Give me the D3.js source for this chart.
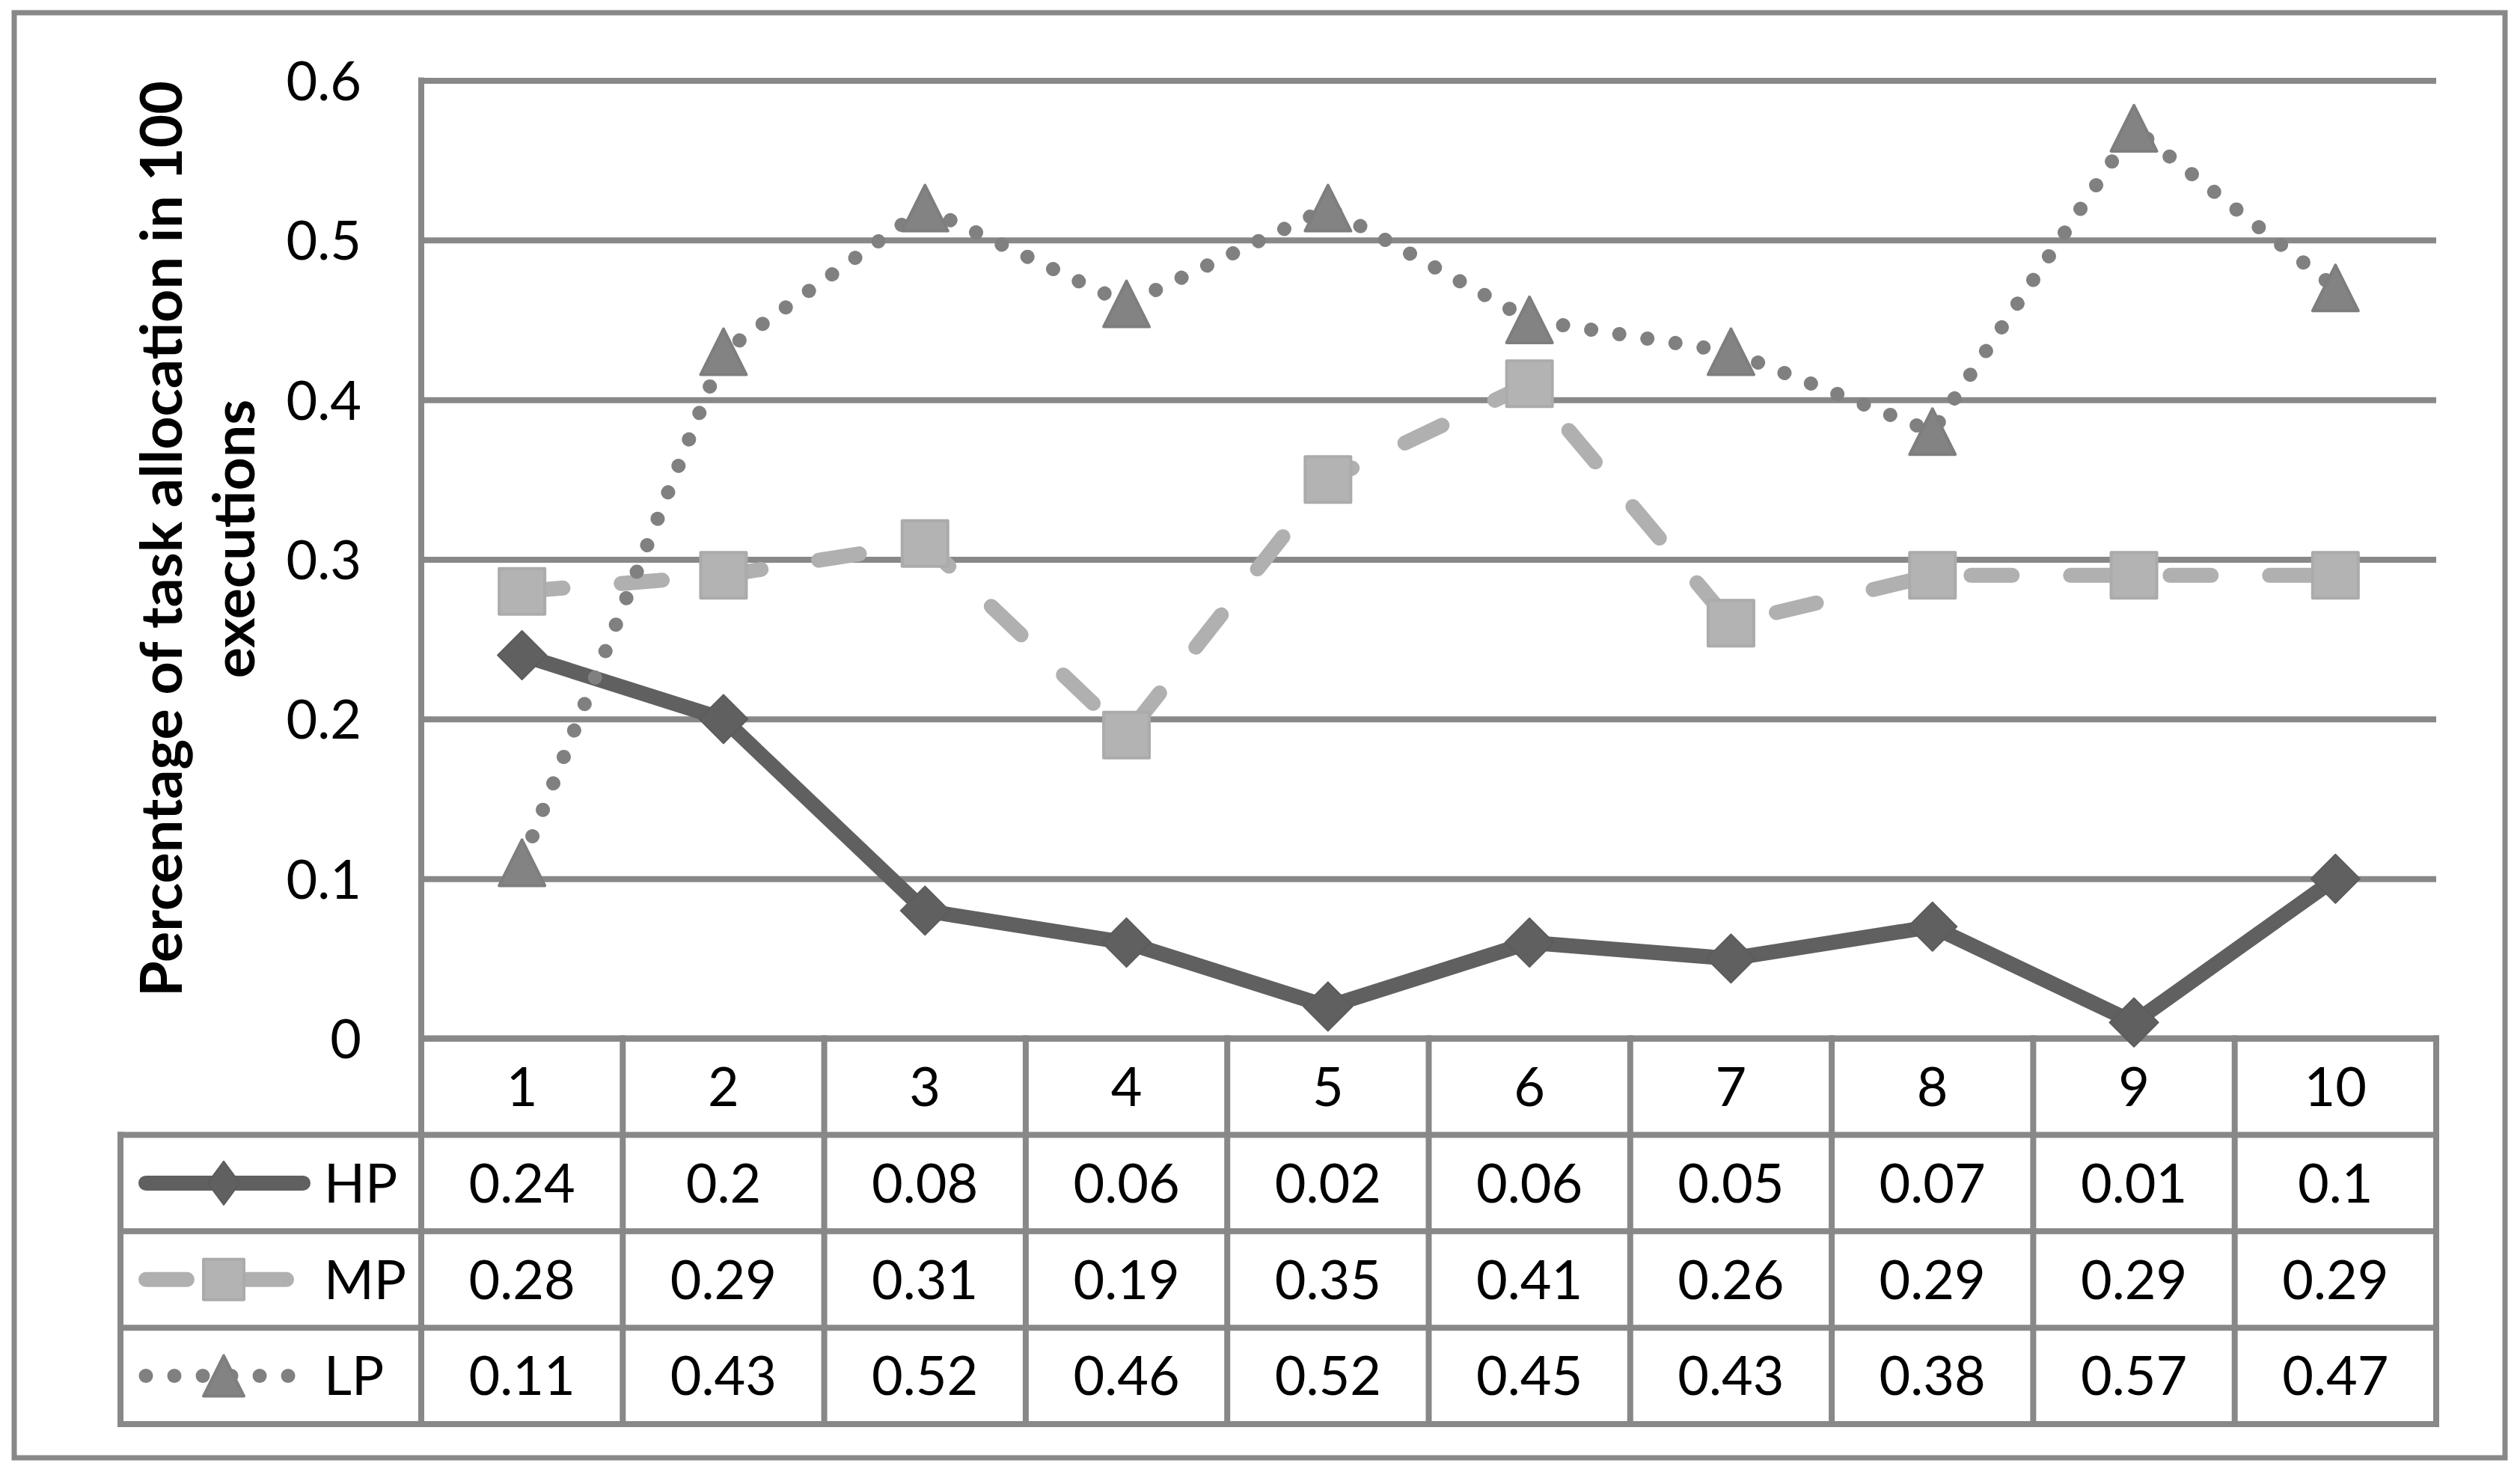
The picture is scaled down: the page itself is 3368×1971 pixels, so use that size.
<!DOCTYPE html>
<html><head><meta charset="utf-8">
<script src="https://cdn.jsdelivr.net/npm/d3@7/dist/d3.min.js"></script>
<style>body{margin:0;background:#fff}svg{display:block}</style>
</head><body>
<svg id="c" width="3368" height="1971"></svg>
<script>
// ---------- data ----------
const categories = ["1","2","3","4","5","6","7","8","9","10"];
const seriesNames = ["HP","MP","LP"];
const hpValues = [0.24,0.2,0.08,0.06,0.02,0.06,0.05,0.07,0.01,0.1];
const mpValues = [0.28,0.29,0.31,0.19,0.35,0.41,0.26,0.29,0.29,0.29];
const lpValues = [0.11,0.43,0.52,0.46,0.52,0.45,0.43,0.38,0.57,0.47];
const yTickValues = [0,0.1,0.2,0.3,0.4,0.5,0.6];
const yTickLabels = ["0","0.1","0.2","0.3","0.4","0.5","0.6"];
const yTitleLines = ["Percentage of task allocation in 100","executions"];

// ---------- layout / style ----------
const FONT = "Lato, 'Open Sans', sans-serif";
const FS = 72;
const GRID = "#888888";
const GW = 8;
const plotL = 563, plotR = 3256, plotT = 107.4, plotB = 1387.6;
const tableL = 161, tableB = 1903;
const rowH = (tableB - plotB) / 4;

const styles = {
  HP: {values: hpValues, color:"#606060", width:20, dash:null, cap:"round", marker:"diamond", mfill:"#606060", mstroke:"#5c5c5c"},
  MP: {values: mpValues, color:"#b0b0b0", width:20, dash:"55,78", cap:"round", marker:"square", mfill:"#b3b3b3", mstroke:"#ababab"},
  LP: {values: lpValues, color:"#808080", width:19, dash:"0.01,38", cap:"round", marker:"triangle", mfill:"#838383", mstroke:"#7e7e7e"}
};

const svg = d3.select("#c");
svg.append("rect").attr("width",3368).attr("height",1971).attr("fill","#fff");

// outer border
svg.append("rect").attr("x",19).attr("y",17).attr("width",3329).attr("height",1931)
  .attr("fill","none").attr("stroke",GRID).attr("stroke-width",7);

const x = d3.scaleBand().domain(categories).range([plotL, plotR]);
const y = d3.scaleLinear().domain([0,0.6]).range([plotB, plotT]);
const cx = c => x(c) + x.bandwidth()/2;

// y axis with gridlines
const yAxis = d3.axisLeft(y).tickValues(yTickValues)
  .tickFormat((d,i)=>yTickLabels[i]).tickSize(-(plotR-plotL)).tickPadding(80);
const ga = svg.append("g").attr("transform",`translate(${plotL},0)`).call(yAxis);
ga.select(".domain").remove();
ga.selectAll(".tick line").attr("stroke",GRID).attr("stroke-width",GW);
ga.selectAll(".tick text").attr("font-family",FONT).attr("font-size",FS)
  .attr("fill","#000").attr("dy","0.36em");

// left axis line (runs into table)
svg.append("line").attr("x1",plotL).attr("x2",plotL).attr("y1",plotT-GW/2).attr("y2",tableB)
  .attr("stroke",GRID).attr("stroke-width",GW);

// table grid
const rowEdges = d3.range(5).map(i => plotB + i*rowH);
const tg = svg.append("g").attr("stroke",GRID).attr("stroke-width",GW).attr("stroke-linecap","square");
tg.selectAll("line.h").data(rowEdges.slice(1)).join("line")
  .attr("x1",tableL).attr("x2",plotR).attr("y1",d=>d).attr("y2",d=>d);
tg.append("line").attr("x1",plotL).attr("x2",plotR).attr("y1",plotB).attr("y2",plotB);
tg.selectAll("line.v").data(categories.slice(1).map(c=>x(c)).concat([plotR])).join("line")
  .attr("x1",d=>d).attr("x2",d=>d).attr("y1",plotB).attr("y2",tableB);
tg.append("line").attr("x1",tableL).attr("x2",tableL).attr("y1",rowEdges[1]).attr("y2",tableB);

// table text
const txt = svg.append("g").attr("font-family",FONT).attr("font-size",FS).attr("fill","#000").attr("text-anchor","middle");
txt.selectAll("text.cat").data(categories).join("text")
  .attr("x",d=>cx(d)).attr("y",plotB + rowH/2).attr("dy","0.36em").text(d=>d);
seriesNames.forEach((s,si)=>{
  const ry = rowEdges[si+1] + rowH/2;
  txt.append("g").selectAll("text").data(styles[s].values).join("text")
    .attr("x",(d,i)=>cx(categories[i])).attr("y",ry).attr("dy","0.36em").text(d=>String(d));
});

// markers
function marker(g, type, mx, my, st, sw, sh){
  const hw = sw/2, hh = sh/2;
  if(type==="diamond"){
    g.append("path").attr("d",`M${mx},${my-hh}L${mx+hw},${my}L${mx},${my+hh}L${mx-hw},${my}Z`)
      .attr("fill",st.mfill).attr("stroke",st.mstroke).attr("stroke-width",2).attr("stroke-linejoin","round");
  } else if(type==="square"){
    g.append("rect").attr("x",mx-hw+2).attr("y",my-hh+2).attr("width",sw-4).attr("height",sh-4)
      .attr("fill",st.mfill).attr("stroke",st.mstroke).attr("stroke-width",4).attr("stroke-linejoin","round");
  } else {
    g.append("path").attr("d",`M${mx},${my-hh+2}L${mx+hw-2},${my+hh-2}L${mx-hw+2},${my+hh-2}Z`)
      .attr("fill",st.mfill).attr("stroke",st.mstroke).attr("stroke-width",4).attr("stroke-linejoin","round");
  }
}

// series
const line = d3.line().x((d,i)=>cx(categories[i])).y(d=>y(d));
seriesNames.forEach(s=>{
  const st = styles[s];
  const g = svg.append("g");
  g.append("path").attr("d",line(st.values)).attr("fill","none")
    .attr("stroke",st.color).attr("stroke-width",st.width)
    .attr("stroke-linecap",st.cap).attr("stroke-linejoin","round")
    .attr("stroke-dasharray",st.dash);
  st.values.forEach((v,i)=>marker(g, st.marker, cx(categories[i]), y(v), st, 65, 65));
});

// legend cells
seriesNames.forEach((s,si)=>{
  const st = styles[s];
  const ry = rowEdges[si+1] + rowH/2;
  const g = svg.append("g");
  g.append("line").attr("x1",195).attr("x2",405).attr("y1",ry).attr("y2",ry)
    .attr("stroke",st.color).attr("stroke-width",st.width).attr("stroke-linecap",st.cap)
    .attr("stroke-dasharray",st.dash);
  if(st.marker==="diamond") marker(g, st.marker, 299, ry, st, 43, 58);
  else marker(g, st.marker, 299, ry, st, 58, 58);
  g.append("text").attr("x",433).attr("y",ry).attr("dy","0.36em")
    .attr("font-family",FONT).attr("font-size",FS).attr("fill","#000").text(s);
});

// y title
const tgT = svg.append("g").attr("font-family",FONT).attr("font-weight","bold").attr("fill","#000").attr("text-anchor","middle");
const t1 = tgT.append("text").attr("transform","translate(243,720) rotate(-90)").attr("font-size",FS).text(yTitleLines[0]);
const len = t1.node().getComputedTextLength();
const tfs = FS * 1224 / len;
t1.attr("font-size",tfs);
tgT.append("text").attr("transform","translate(340,720) rotate(-90)").attr("font-size",tfs).text(yTitleLines[1]);
</script>
</body></html>
